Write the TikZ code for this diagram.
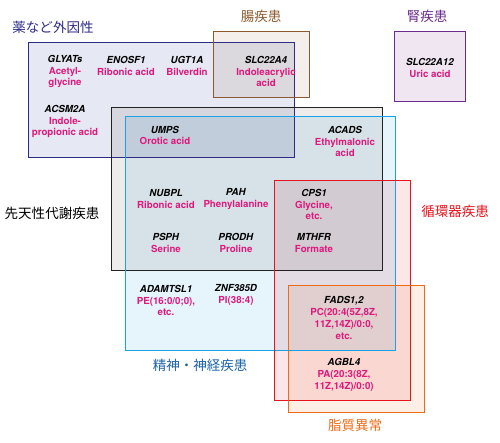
\documentclass[tikz,border=0pt]{standalone}
\usepackage{fontspec}
\setmainfont{TeX Gyre Heros}
\newfontfamily\jpfont{Noto Sans CJK JP}
\usetikzlibrary{positioning}

% colours of the disease groups
\definecolor{drugline}{HTML}{2E2C86}
\definecolor{drugfill}{HTML}{E6E8F3}
\definecolor{gutline}{HTML}{8C5A30}
\definecolor{gutfill}{HTML}{F4EFEA}
\definecolor{kidline}{HTML}{6A2C8C}
\definecolor{kidfill}{HTML}{EFE6F2}
\definecolor{cogline}{HTML}{222222}
\definecolor{cogfill}{HTML}{EEECEA}
\definecolor{neuline}{HTML}{1BA1E6}
\definecolor{neufill}{HTML}{E6F5FC}
\definecolor{carline}{HTML}{E6141C}
\definecolor{carfill}{HTML}{FCE6E8}
\definecolor{lipline}{HTML}{F06A14}
\definecolor{lipfill}{HTML}{FDEFE6}
\definecolor{metab}{HTML}{E0187C}
\definecolor{neutext}{HTML}{1A62AA}

\newcommand{\gn}[1]{\textcolor{black}{\textit{#1}}}

\tikzset{
  gene/.style={align=center, text=metab, inner sep=0pt,
    font=\bfseries\fontsize{9.7}{11.8}\selectfont},
  grouplabel/.style={inner sep=0pt, font=\jpfont\fontsize{13.5}{14}\selectfont},
  groupbox/.style={line width=1pt}
}

\begin{document}
\begin{tikzpicture}[x=1pt, y=-1pt]
    \useasboundingbox (0,0) rectangle (500,442);
    % Fills of the groups
    \begin{scope}[blend mode=multiply]
    \fill[drugfill] (28,42) rectangle (294,157);
    \fill[gutfill] (213,31) rectangle (309,97);
    \fill[kidfill] (394,31) rectangle (465,101);
    \fill[cogfill] (111,107) rectangle (382,270);
    \fill[neufill] (125,116) rectangle (395,350);
    \fill[carfill] (274,180) rectangle (410,400);
    \fill[lipfill] (288,285) rectangle (424,412);
    \end{scope}
    % Borders of the groups
    \draw[groupbox, drugline] (28,42) rectangle (294,157);
    \draw[groupbox, gutline] (213,31) rectangle (309,97);
    \draw[groupbox, kidline] (394,31) rectangle (465,101);
    \draw[groupbox, cogline] (111,107) rectangle (382,270);
    \draw[groupbox, neuline] (125,116) rectangle (395,350);
    \draw[groupbox, carline] (274,180) rectangle (410,400);
    \draw[groupbox, lipline] (288,285) rectangle (424,412);
    % Group labels
    \node[grouplabel, text=drugline] (druglabel) at (53,27) {薬など外因性};
    \node[grouplabel, text=gutline] (gutlabel) at (261,16) {腸疾患};
    \node[grouplabel, text=kidline] (kidlabel) at (427,16) {腎疾患};
    \node[grouplabel, text=black] (coglabel) at (52,213) {先天性代謝疾患};
    \node[grouplabel, text=carline] (carlabel) at (455,211) {循環器疾患};
    \node[grouplabel, text=neutext] (neulabel) at (200,365) {精神・神経疾患};
    \node[grouplabel, text=lipline] (liplabel) at (355,425) {脂質異常};
    % Genes and metabolites
    \node[gene] (glyats) at (65,71.5) {\gn{GLYATs}\\Acetyl-\\glycine};
    \node[gene] (enosf) at (126,66) {\gn{ENOSF1}\\Ribonic acid};
    \node[gene] (ugt) at (187,66) {\gn{UGT1A}\\Bilverdin};
    \node[gene] (slcfour) at (266,71.5) {\gn{SLC22A4}\\Indoleacrylic\\acid};
    \node[gene] (slctwelve) at (430,68) {\gn{SLC22A12}\\Uric acid};
    \node[gene] (acsm) at (65,121.5) {\gn{ACSM2A}\\Indole-\\propionic acid};
    \node[gene] (umps) at (165,135.5) {\gn{UMPS}\\Orotic acid};
    \node[gene] (acads) at (345,141.5) {\gn{ACADS}\\Ethylmalonic\\acid};
    \node[gene] (nubpl) at (166,199) {\gn{NUBPL}\\Ribonic acid};
    \node[gene] (pah) at (236,199) {\gn{PAH}\\Phenylalanine};
    \node[gene] (cps) at (314,204.5) {\gn{CPS1}\\Glycine,\\etc.};
    \node[gene] (psph) at (166,243) {\gn{PSPH}\\Serine};
    \node[gene] (prodh) at (236,243) {\gn{PRODH}\\Proline};
    \node[gene] (mthfr) at (314,243) {\gn{MTHFR}\\Formate};
    \node[gene] (adamtsl) at (166,300.5) {\gn{ADAMTSL1}\\PE(16:0/0;0),\\etc.};
    \node[gene] (znf) at (236,295) {\gn{ZNF385D}\\PI(38:4)};
    \node[gene] (fads) at (344,318) {\gn{FADS1,2}\\PC(20:4(5Z,8Z,\\11Z,14Z)/0:0,\\etc.};
    \node[gene] (agbl) at (344,375) {\gn{AGBL4}\\PA(20:3(8Z,\\11Z,14Z)/0:0)};
\end{tikzpicture}
\end{document}
